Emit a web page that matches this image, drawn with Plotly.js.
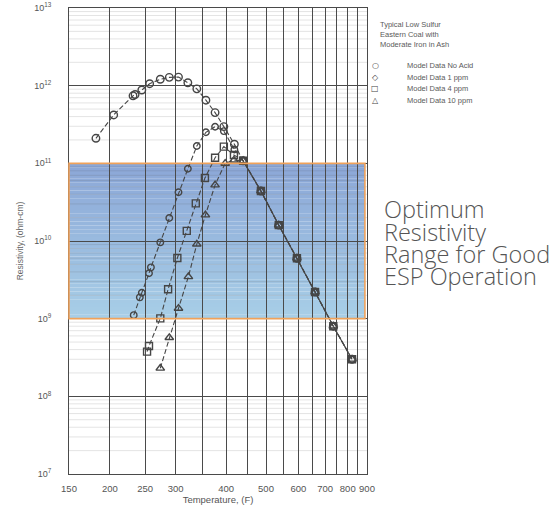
<!DOCTYPE html>
<html>
<head>
<meta charset="utf-8">
<script src="https://cdn.plot.ly/plotly-3.0.1.min.js"></script>
<style>html,body{margin:0;padding:0;background:#fff;}#chart{width:558px;height:514px;}</style>
</head>
<body>
<div id="chart"></div>
<script>
// ---- data (temperature in F, resistivity in ohm-cm) ----
const tempNoAcid = [182, 205, 232, 235, 245, 257, 274, 289, 305, 322, 339, 357, 376, 395, 419, 440, 486, 537, 595, 660, 734, 821];
const rhoNoAcid  = [2.1e11, 4.2e11, 7.4e11, 7.7e11, 8.8e11, 1.06e12, 1.21e12, 1.28e12, 1.29e12, 1.09e12, 9.1e11, 6.5e11, 4.5e11, 2.97e11, 1.76e11, 1.08e11, 4.4e10, 1.6e10, 6.0e9, 2.2e9, 8.0e8, 3.0e8];

const temp1ppm = [233, 242, 245, 256, 259, 274, 289, 305, 322, 339, 357, 376, 395, 419, 440, 486, 537, 595, 660, 734, 821];
const rho1ppm  = [1.11e9, 1.88e9, 2.16e9, 3.84e9, 4.58e9, 9.6e9, 1.98e10, 4.24e10, 8.5e10, 1.67e11, 2.51e11, 2.96e11, 2.6e11, 1.51e11, 1.08e11, 4.4e10, 1.6e10, 6.0e9, 2.2e9, 8.0e8, 3.0e8];

const temp4ppm = [253, 256, 274, 287, 303, 320, 337, 355, 376, 395, 418, 440, 486, 537, 595, 660, 734, 821];
const rho4ppm  = [3.76e8, 4.45e8, 1.01e9, 2.39e9, 6.04e9, 1.35e10, 3.05e10, 6.47e10, 1.18e11, 1.64e11, 1.28e11, 1.08e11, 4.4e10, 1.6e10, 6.0e9, 2.2e9, 8.0e8, 3.0e8];

const temp10ppm = [274, 289, 305, 323, 339, 356, 376, 398, 418, 440, 486, 537, 595, 660, 734, 821];
const rho10ppm  = [2.3e8, 5.7e8, 1.36e9, 3.47e9, 9.1e9, 2.16e10, 5.26e10, 1.0e11, 1.1e11, 1.08e11, 4.4e10, 1.6e10, 6.0e9, 2.2e9, 8.0e8, 3.0e8];

const seriesNames = ['Model Data No Acid', 'Model Data 1 ppm', 'Model Data 4 ppm', 'Model Data 10 ppm'];
const legendSymbols = ['○', '◇', '□', '△'];

const gridTemps = [150, 200, 250, 300, 350, 400, 450, 500, 550, 600, 650, 700, 750, 800, 850, 900];
const labeledTemps = [150, 200, 250, 300, 400, 500, 600, 700, 800, 900];

const yTickVals = [1e7, 1e8, 1e9, 1e10, 1e11, 1e12, 1e13];
const yTickText = ['10<sup>7</sup>', '10<sup>8</sup>', '10<sup>9</sup>', '10<sup>10</sup>', '10<sup>11</sup>', '10<sup>12</sup>', '10<sup>13</sup>'];

const bandLow = 1e9, bandHigh = 1e11;

// reciprocal absolute temperature scale
const fx = T => -1e5 / (T + 460);

const ink = '#454545';
const dashStyle = '5px,2.5px';
const symbols = ['circle-open', 'circle-open', 'square-open', 'triangle-up-open'];
const sizes = [7.5, 6.5, 7, 7.5];
const temps = [tempNoAcid, temp1ppm, temp4ppm, temp10ppm];
const rhos = [rhoNoAcid, rho1ppm, rho4ppm, rho10ppm];

const traces = [];
for (let i = 0; i < 4; i++) {
  traces.push({
    x: temps[i].map(fx), y: rhos[i], type: 'scatter', mode: 'lines+markers',
    name: seriesNames[i], showlegend: false,
    line: {color: ink, width: 1.1, dash: dashStyle},
    marker: {symbol: symbols[i], size: sizes[i], color: ink, line: {width: 1.4, color: ink}},
    hoverinfo: 'skip'
  });
}

// band gradient strips
const shapes = [];
const nStrips = 40;
const cTop = [139, 166, 215], cBot = [168, 207, 231];
const lLo = Math.log10(bandLow), lHi = Math.log10(bandHigh);
for (let k = 0; k < nStrips; k++) {
  const a = lLo + (lHi - lLo) * k / nStrips;
  const b = lLo + (lHi - lLo) * (k + 1) / nStrips;
  const t = (k + 0.5) / nStrips; // 0 bottom, 1 top
  const c = cBot.map((v, j) => Math.round(v + (cTop[j] - v) * t));
  shapes.push({type: 'rect', xref: 'x domain', yref: 'y', x0: 0, x1: 0.993, y0: Math.pow(10, a), y1: Math.pow(10, b) * 1.002,
    fillcolor: `rgb(${c[0]},${c[1]},${c[2]})`, line: {width: 0}, layer: 'below'});
}
// minor horizontal grid lines (2..9 in each decade)
for (let d = 7; d < 13; d++) {
  for (let m = 2; m <= 9; m++) {
    const v = m * Math.pow(10, d);
    shapes.push({type: 'line', xref: 'x domain', yref: 'y', x0: 0, x1: 1, y0: v, y1: v,
      line: {color: 'rgba(90,90,90,0.16)', width: 1}, layer: 'below'});
  }
}
shapes.push({type: 'rect', xref: 'x domain', yref: 'y', x0: 0, x1: 0.993, y0: bandLow, y1: bandHigh,
  fillcolor: 'rgba(0,0,0,0)', line: {color: '#f0a25a', width: 1.6}, layer: 'above'});

const W = 558, H = 514, L = 69, R = 367, T = 8, B = 474;
const px = x => (x - L) / (R - L);
const py = y => (B - y) / (B - T);

const annotations = [];
annotations.push({xref: 'paper', yref: 'paper', x: px(378), y: py(35), xanchor: 'left', yanchor: 'middle', align: 'left',
  text: 'Typical Low Sulfur<br>Eastern Coal with<br>Moderate Iron in Ash', showarrow: false,
  font: {family: 'Liberation Sans, Arial, sans-serif', size: 7.5, color: '#5a5a5a'}});
const legRows = [66, 77, 89, 100];
for (let i = 0; i < 4; i++) {
  annotations.push({xref: 'paper', yref: 'paper', x: px(375), y: py(legRows[i]), xanchor: 'center', yanchor: 'middle',
    text: legendSymbols[i], showarrow: false, font: {family: 'DejaVu Sans, sans-serif', size: 8, color: '#444'}});
  annotations.push({xref: 'paper', yref: 'paper', x: px(405), y: py(legRows[i]), xanchor: 'left', yanchor: 'middle',
    text: seriesNames[i], showarrow: false, font: {family: 'Liberation Sans, Arial, sans-serif', size: 7.5, color: '#5a5a5a'}});
}
const bigLines = ['Optimum', 'Resistivity', 'Range for Good', 'ESP Operation'];
const bigY = [209, 231.5, 254, 276.5];
for (let i = 0; i < 4; i++) {
  annotations.push({xref: 'paper', yref: 'paper', x: px(382), y: py(bigY[i]), xanchor: 'left', yanchor: 'middle',
    text: bigLines[i], showarrow: false,
    font: {family: 'Open Sans, Roboto, sans-serif', size: 23.5, weight: 300, color: '#555'}});
}

const layout = {
  width: W, height: H,
  margin: {l: L, r: W - R, t: T, b: H - B, pad: 0},
  paper_bgcolor: '#fff', plot_bgcolor: '#fff',
  showlegend: false,
  xaxis: {
    range: [fx(150), fx(900)], tickmode: 'array',
    tickvals: gridTemps.map(fx),
    ticktext: gridTemps.map(t => labeledTemps.includes(t) ? String(t) : ''),
    tickangle: 0,
    showgrid: true, gridcolor: '#4a4a4a', gridwidth: 1,
    showline: true, linecolor: '#4a4a4a', linewidth: 1, mirror: true,
    zeroline: false, ticks: '', ticklabelstandoff: 6,
    tickfont: {family: 'Liberation Sans, Arial, sans-serif', size: 9.5, color: '#555'},
    title: {text: 'Temperature, (F)', standoff: 2, font: {family: 'Liberation Sans, Arial, sans-serif', size: 9.5, color: '#555'}}
  },
  yaxis: {
    type: 'log', range: [7, 13], tickmode: 'array', tickvals: yTickVals, ticktext: yTickText,
    showgrid: true, gridcolor: '#4a4a4a', gridwidth: 1,
    showline: true, linecolor: '#4a4a4a', linewidth: 1, mirror: true,
    zeroline: false, ticks: '', ticklabelstandoff: 15,
    tickfont: {family: 'Liberation Sans, Arial, sans-serif', size: 9, color: '#555'},
    title: {text: 'Resistivity, (ohm-cm)', standoff: 9, font: {family: 'Liberation Sans, Arial, sans-serif', size: 8.5, color: '#666'}}
  },
  shapes: shapes,
  annotations: annotations
};

Plotly.newPlot('chart', traces, layout, {displayModeBar: false});
</script>
</body>
</html>
